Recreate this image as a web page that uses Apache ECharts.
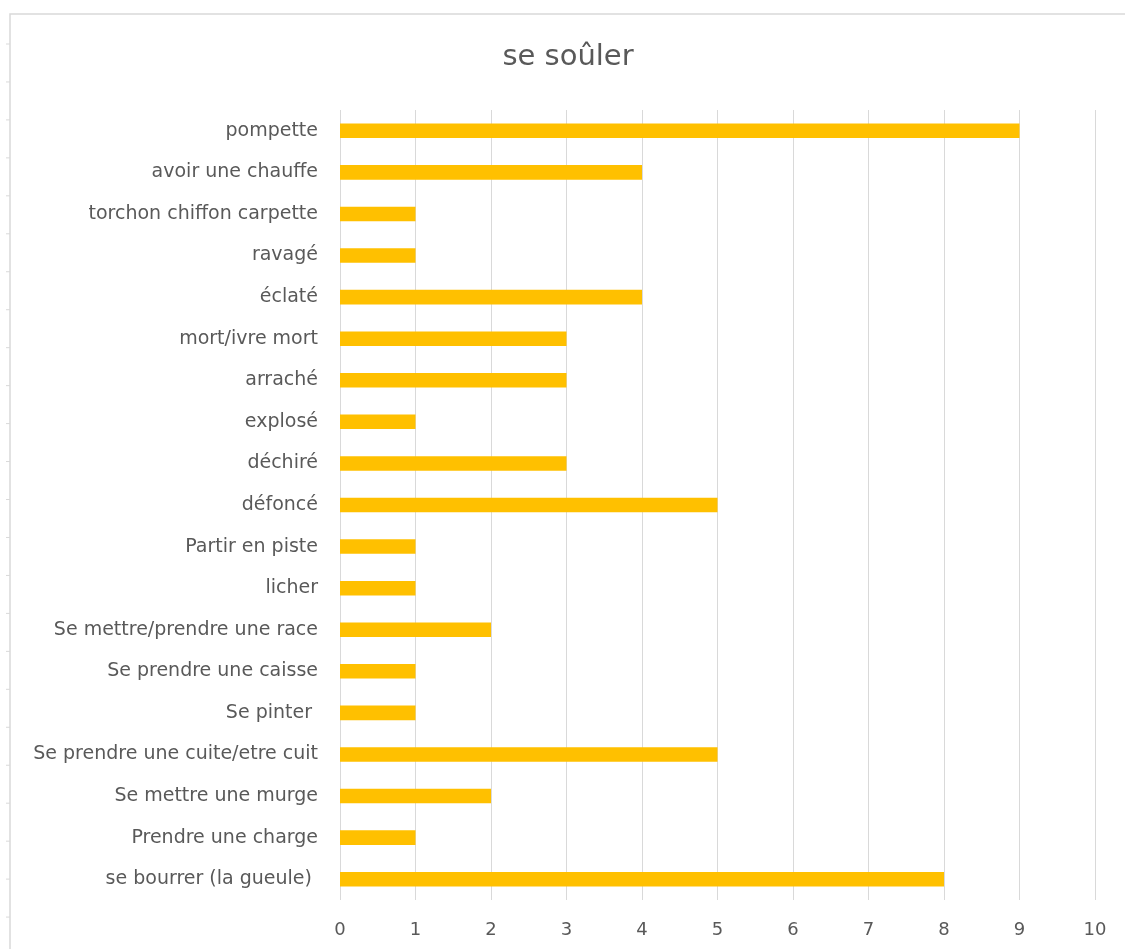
<!DOCTYPE html>
<html><head><meta charset="utf-8">
<script src="https://cdn.jsdelivr.net/npm/echarts@6/dist/echarts.min.js"></script>
<style>html,body{margin:0;padding:0;background:#fff}#c{width:1125px;height:949px}</style>
</head><body><div id="c"></div>
<script>
const categories = ["se bourrer (la gueule) ","Prendre une charge","Se mettre une murge","Se prendre une cuite/etre cuit","Se pinter ","Se prendre une caisse","Se mettre/prendre une race","licher","Partir en piste","défoncé","déchiré","explosé","arraché","mort/ivre mort","éclaté","ravagé","torchon chiffon carpette","avoir une chauffe","pompette"];
const values = [8,1,2,5,1,1,2,1,1,5,3,1,3,3,4,1,1,4,9];
const titleText = "se soûler";

const FONT = "DejaVu Sans";
const ticks = [];
for (let i = 0; i < 24; i++) {
  ticks.push({type:'line', shape:{x1:6,y1:44+i*37.96,x2:10,y2:44+i*37.96}, style:{stroke:'#d9d9d9',lineWidth:1}, silent:true});
}
const chart = echarts.init(document.getElementById('c'), null, {renderer:'canvas'});
chart.setOption({
  backgroundColor:'#fff',
  animation:false,
  title:{text:titleText,left:563,top:38,textAlign:'center',textStyle:{fontFamily:FONT,fontSize:29,fontWeight:'normal',color:'#595959'}},
  grid:{left:340,right:30,top:110,bottom:49,containLabel:false},
  xAxis:{type:'value',min:0,max:10,interval:1,
    axisLine:{show:false},axisTick:{show:false},
    axisLabel:{fontFamily:FONT,fontSize:18,color:'#595959',margin:21},
    splitLine:{show:true,lineStyle:{color:'#d9d9d9',width:1}}},
  yAxis:{type:'category',data:categories,
    axisLine:{show:false},axisTick:{show:false},
    axisLabel:{fontFamily:FONT,fontSize:19,color:'#595959',margin:22}},
  series:[{type:'bar',data:values,barWidth:'35%',itemStyle:{color:'#FFC000'}}],
  graphic:[{type:'rect',shape:{x:10,y:14,width:1200,height:1000},style:{fill:null,stroke:'#d9d9d9',lineWidth:1.5},silent:true}].concat(ticks)
});
</script></body></html>
